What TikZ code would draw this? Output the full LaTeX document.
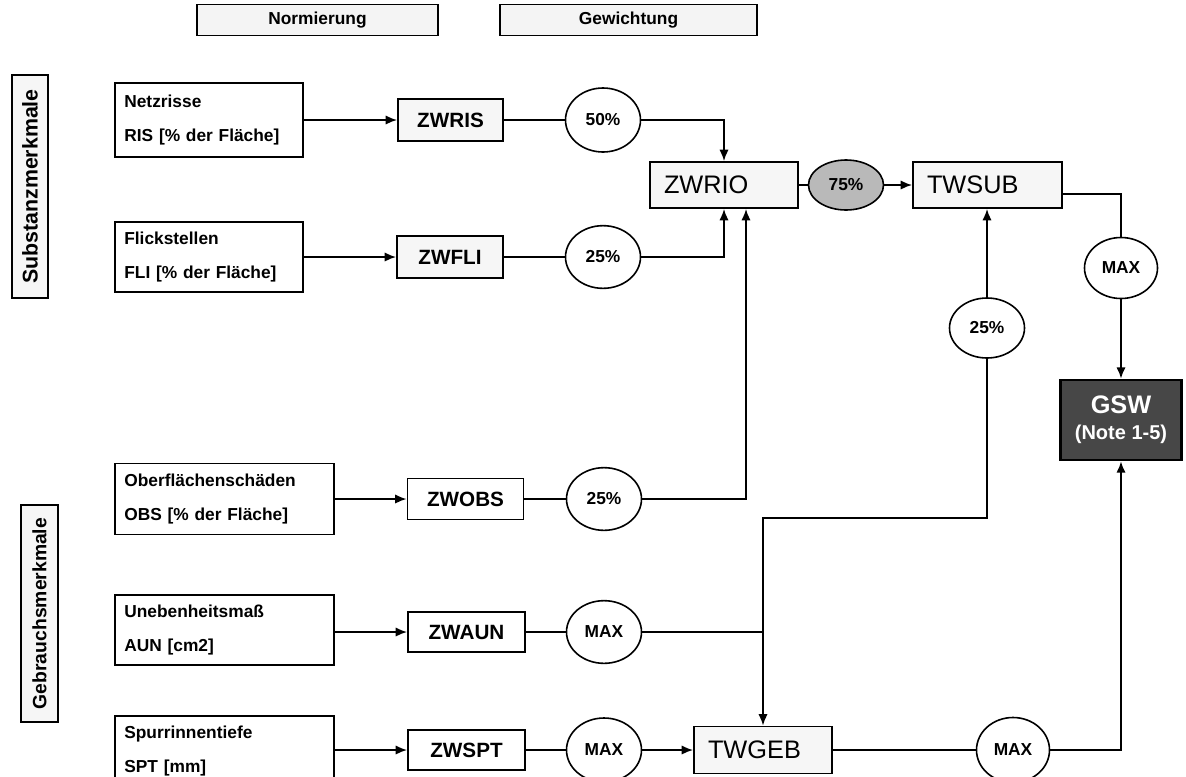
\documentclass[tikz,border=0pt]{standalone}
\usepackage{fontspec}
\setmainfont{Liberation Sans}
\usetikzlibrary{positioning,arrows.meta,shapes.geometric,calc}
\tikzset{
  flowarrow/.style={-{Latex[length=8.5pt,width=7pt]}, line width=1.4pt},
  flowline/.style={line width=1.4pt},
  inbox/.style={draw, line width=1.4pt, fill=white, inner xsep=7pt, inner ysep=0pt, align=left, font=\bfseries\fontsize{13}{25.5}\selectfont},
  zwbox/.style={draw, line width=1.4pt, fill=gray!7, minimum height=31pt, inner sep=0pt, font=\bfseries\fontsize{15.5}{18}\selectfont},
  twbox/.style={draw, line width=1.4pt, fill=gray!7, minimum height=34.5pt, inner xsep=10.5pt, inner ysep=0pt, align=left, font=\fontsize{19}{22}\selectfont},
  weightnode/.style={draw, ellipse, line width=1.2pt, fill=white, minimum width=56.25pt, minimum height=47pt, inner sep=0pt, font=\bfseries\fontsize{13}{15}\selectfont},
  legendbox/.style={draw, line width=1.3pt, fill=gray!9, minimum height=23.25pt, inner sep=0pt, font=\bfseries\fontsize{13}{15}\selectfont},
  groupbox/.style={draw, line width=1.3pt, fill=gray!7, rotate=90, minimum height=27pt, inner sep=0pt}
}

\begin{document}
\begin{tikzpicture}[x=0.75pt, y=-0.75pt]
  \fill[white] (0,0) rectangle (1186,776);
  \useasboundingbox (0,0) rectangle (1186,776);

  % legend and groups
  \node[legendbox, minimum width=180.75pt] (norm) at (317.5,20) {Normierung};
  \node[legendbox, minimum width=192.75pt] (gew) at (628.5,20) {Gewichtung};
  \node[groupbox, minimum width=167.25pt, font=\bfseries\fontsize{16}{18}\selectfont] (subst) at (30,186.5) {Substanzmerkmale};
  \node[groupbox, minimum width=162.75pt, minimum height=27.75pt, font=\bfseries\fontsize{14.5}{17}\selectfont] (gebr) at (39.5,613.5) {Gebrauchsmerkmale};

  % input features
  \node[inbox, text width=127pt, minimum height=55.5pt] (netz) at (209,120) {Netzrisse\\RIS [\% der Fläche]};
  \node[inbox, text width=127pt, minimum height=52.5pt] (flick) at (209,257) {Flickstellen\\FLI [\% der Fläche]};
  \node[inbox, text width=150.25pt, minimum height=53.25pt] (obs) at (224.5,499) {Oberflächenschäden\\OBS [\% der Fläche]};
  \node[inbox, text width=150.25pt, minimum height=52.5pt] (uneb) at (224.5,630) {Unebenheitsmaß\\AUN [cm2]};
  \node[inbox, text width=150.25pt, minimum height=52.5pt] (spur) at (224.5,751) {Spurrinnentiefe\\SPT [mm]};

  % normalised values
  \node[zwbox, minimum width=78.75pt] (zwris) at (450.5,120) {ZWRIS};
  \node[zwbox, minimum width=79.5pt] (zwfli) at (450,257) {ZWFLI};
  \node[zwbox, minimum width=87pt, minimum height=30.75pt, fill=white] (zwobs) at (465.5,499) {ZWOBS};
  \node[zwbox, minimum width=87.75pt, minimum height=30pt, fill=white] (zwaun) at (466.5,632) {ZWAUN};
  \node[zwbox, minimum width=87.75pt, minimum height=30pt, fill=white] (zwspt) at (466.5,750) {ZWSPT};

  % weights
  \node[weightnode, minimum height=48pt] (p50) at (603,120) {50\%};
  \node[weightnode] (p25a) at (603,257) {25\%};
  \node[weightnode] (p25b) at (604,499) {25\%};
  \node[weightnode] (maxa) at (604,632) {MAX};
  \node[weightnode, minimum height=48pt] (maxb) at (604,750) {MAX};
  \node[weightnode, minimum height=37.5pt, fill=gray!55] (p75) at (846,185) {75\%};
  \node[weightnode, minimum height=45pt] (p25c) at (987,328) {25\%};
  \node[weightnode, minimum width=54.75pt, minimum height=45.75pt] (maxc) at (1121,268) {MAX};
  \node[weightnode, minimum width=54.75pt, minimum height=48.75pt] (maxd) at (1013,750) {MAX};

  % partial and total values
  \node[twbox, minimum width=111pt, text width=90pt] (zwrio) at (724,185) {ZWRIO};
  \node[twbox, minimum width=111.75pt, text width=90.75pt] (twsub) at (987.5,185) {TWSUB};
  \node[twbox, minimum width=103.5pt, text width=82.5pt, minimum height=35.25pt] (twgeb) at (763,750) {TWGEB};
  \node[draw, line width=2pt, fill=black!72, text=white, minimum width=90.75pt, minimum height=60pt, inner sep=0pt, align=center,
        font=\bfseries\fontsize{15}{19.5}\selectfont] (gsw) at (1121,420) {{\fontsize{19}{19.5}\selectfont GSW}\\(Note 1-5)};

  \coordinate (knot) at (763,518);

  \draw[flowarrow] (netz) -- (zwris);
  \draw[flowarrow] (flick) -- (zwfli);
  \draw[flowarrow] (obs) -- (zwobs);
  \draw[flowarrow] (uneb.east |- zwaun) -- (zwaun);
  \draw[flowarrow] (spur.east |- zwspt) -- (zwspt);
  \draw[flowline] (zwris) -- (p50);
  \draw[flowline] (zwfli) -- (p25a);
  \draw[flowline] (zwobs) -- (p25b);
  \draw[flowline] (zwaun) -- (maxa);
  \draw[flowline] (zwspt) -- (maxb);
  \draw[flowarrow] (p50) -| (zwrio.north);
  \draw[flowarrow] (p25a) -| (zwrio.south);
  \draw[flowarrow] (p25b) -| ($(zwrio.south)+(22,0)$);
  \draw[flowline] (maxa) -- (maxa -| knot);
  \draw[flowarrow] (maxb) -- (twgeb);
  \draw[flowline] (zwrio) -- (p75);
  \draw[flowarrow] (p75) -- (twsub);
  \draw[flowarrow] (p25c) -- (p25c |- twsub.south);
  \draw[flowarrow] (p25c) |- (knot) -- (twgeb);
  \draw[flowline] ($(twsub.east)+(0,9)$) -| (maxc);
  \draw[flowarrow] (maxc) -- (gsw);
  \draw[flowline] (twgeb) -- (maxd);
  \draw[flowarrow] (maxd) -| (gsw);
\end{tikzpicture}
\end{document}
